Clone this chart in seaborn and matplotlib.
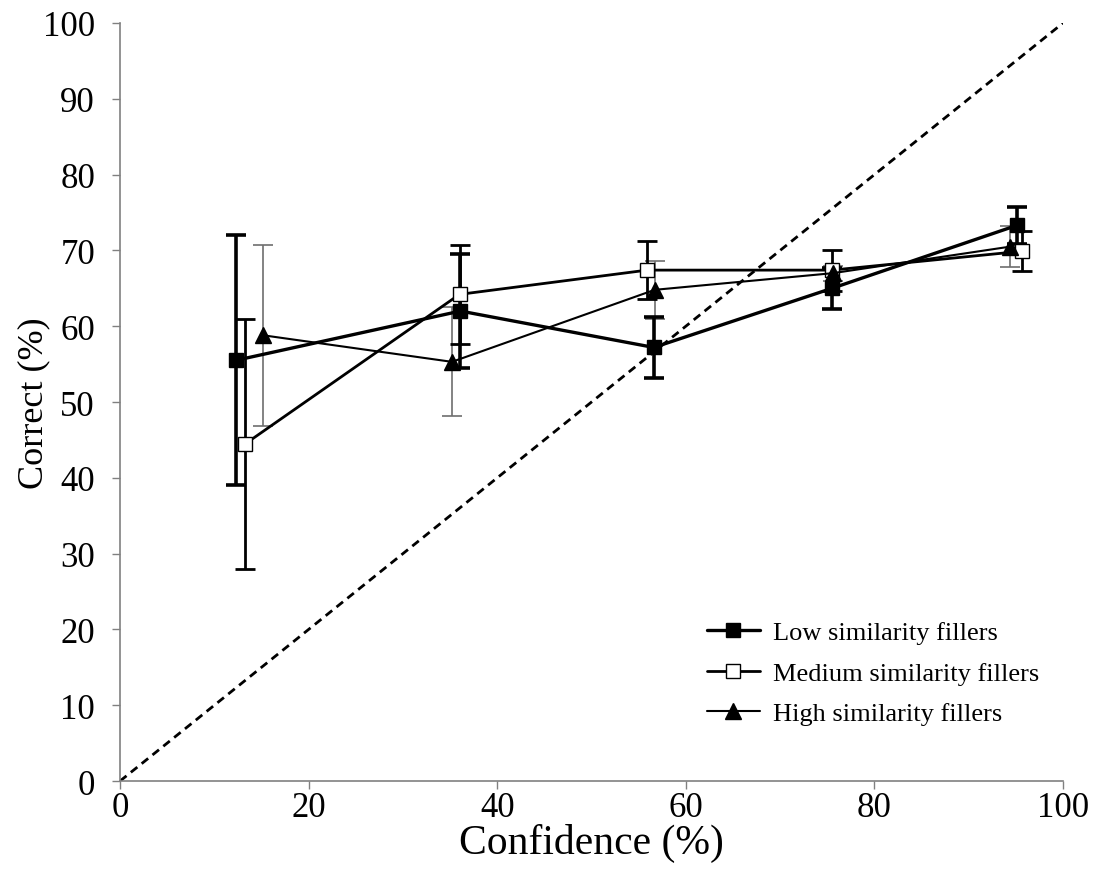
import numpy as np
import pandas as pd
import matplotlib
matplotlib.use("Agg")
import matplotlib.pyplot as plt
import seaborn as sns

# ------------------------------
# Data
# ------------------------------
series = ["Low similarity fillers", "Medium similarity fillers", "High similarity fillers"]

low_conf = [12.3, 36.1, 56.6, 75.5, 95.1]
low_correct = [55.5, 62.0, 57.2, 65.0, 73.3]
low_err = [16.5, 7.5, 4.0, 2.7, 2.4]

med_conf = [13.3, 36.0, 55.9, 75.5, 95.7]
med_correct = [44.5, 64.2, 67.4, 67.4, 69.9]
med_err = [16.5, 6.5, 3.8, 2.7, 2.6]

high_conf = [15.2, 35.2, 56.7, 75.6, 94.4]
high_correct = [58.8, 55.3, 64.8, 67.0, 70.5]
high_err = [11.9, 7.2, 3.8, 1.0, 2.7]

x_ticks = [0, 20, 40, 60, 80, 100]
y_ticks = [0, 10, 20, 30, 40, 50, 60, 70, 80, 90, 100]

df = pd.DataFrame({
    "Confidence": low_conf + med_conf + high_conf,
    "Correct": low_correct + med_correct + high_correct,
    "Error": low_err + med_err + high_err,
    "Series": [series[0]] * 5 + [series[1]] * 5 + [series[2]] * 5,
})

# ------------------------------
# Style
# ------------------------------
sns.set_theme(style="white")
plt.rcParams["font.family"] = ["Liberation Serif", "DejaVu Serif"]
plt.rcParams["text.color"] = "black"
plt.rcParams["axes.labelcolor"] = "black"
plt.rcParams["xtick.color"] = "black"
plt.rcParams["ytick.color"] = "black"

fig = plt.figure(figsize=(10.94, 8.79), dpi=100)
ax = fig.add_axes([0.1097, 0.1103, 0.862, 0.8624])

# per-series look: (marker, face, line width, marker size, error colour, error width)
looks = {
    series[0]: ("s", "black", 2.4, 10, "black", 2.6),
    series[1]: ("s", "white", 2.0, 10, "black", 2.0),
    series[2]: ("^", "black", 1.5, 12, "#6e6e6e", 1.2),
}

# identity line
ax.plot([0, 100], [0, 100], ls=(0, (3, 2)), color="black", lw=2.0, zorder=1)

for name in [series[2], series[1], series[0]]:
    sub = df[df["Series"] == name]
    marker, face, lw, ms, ecol, ew = looks[name]
    ax.errorbar(sub["Confidence"], sub["Correct"], yerr=sub["Error"], fmt="none",
                ecolor=ecol, elinewidth=ew, capsize=7, capthick=ew, zorder=2)

for name in series:
    sub = df[df["Series"] == name]
    marker, face, lw, ms, ecol, ew = looks[name]
    sns.lineplot(data=sub, x="Confidence", y="Correct", sort=False, ax=ax,
                 color="black", lw=lw, marker=marker, markersize=ms,
                 markerfacecolor=face, markeredgecolor="black", markeredgewidth=1.0,
                 label=name, zorder=3)

ax.set_xlim(0, 100)
ax.set_ylim(0, 100)
ax.set_xticks(x_ticks)
ax.set_yticks(y_ticks)
ax.tick_params(axis="both", labelsize=25, direction="out", length=6, width=1,
               color="#808080", labelcolor="black", left=True, bottom=True)
ax.tick_params(axis="y", pad=12)
ax.tick_params(axis="x", pad=1)
ax.set_xlabel("Confidence (%)", fontsize=30)
ax.set_ylabel("Correct (%)", fontsize=26)
ax.xaxis.set_label_coords(0.5, -0.055)
ax.yaxis.set_label_coords(-0.074, 0.5)

for side in ["top", "right"]:
    ax.spines[side].set_visible(False)
for side in ["left", "bottom"]:
    ax.spines[side].set_color("#808080")
    ax.spines[side].set_linewidth(1.2)

leg = ax.legend(loc="lower right", bbox_to_anchor=(1.0, 0.042), frameon=False,
                fontsize=19, handlelength=2.0, handletextpad=0.5, labelspacing=0.65)

fig.savefig("out.png", dpi=100)
